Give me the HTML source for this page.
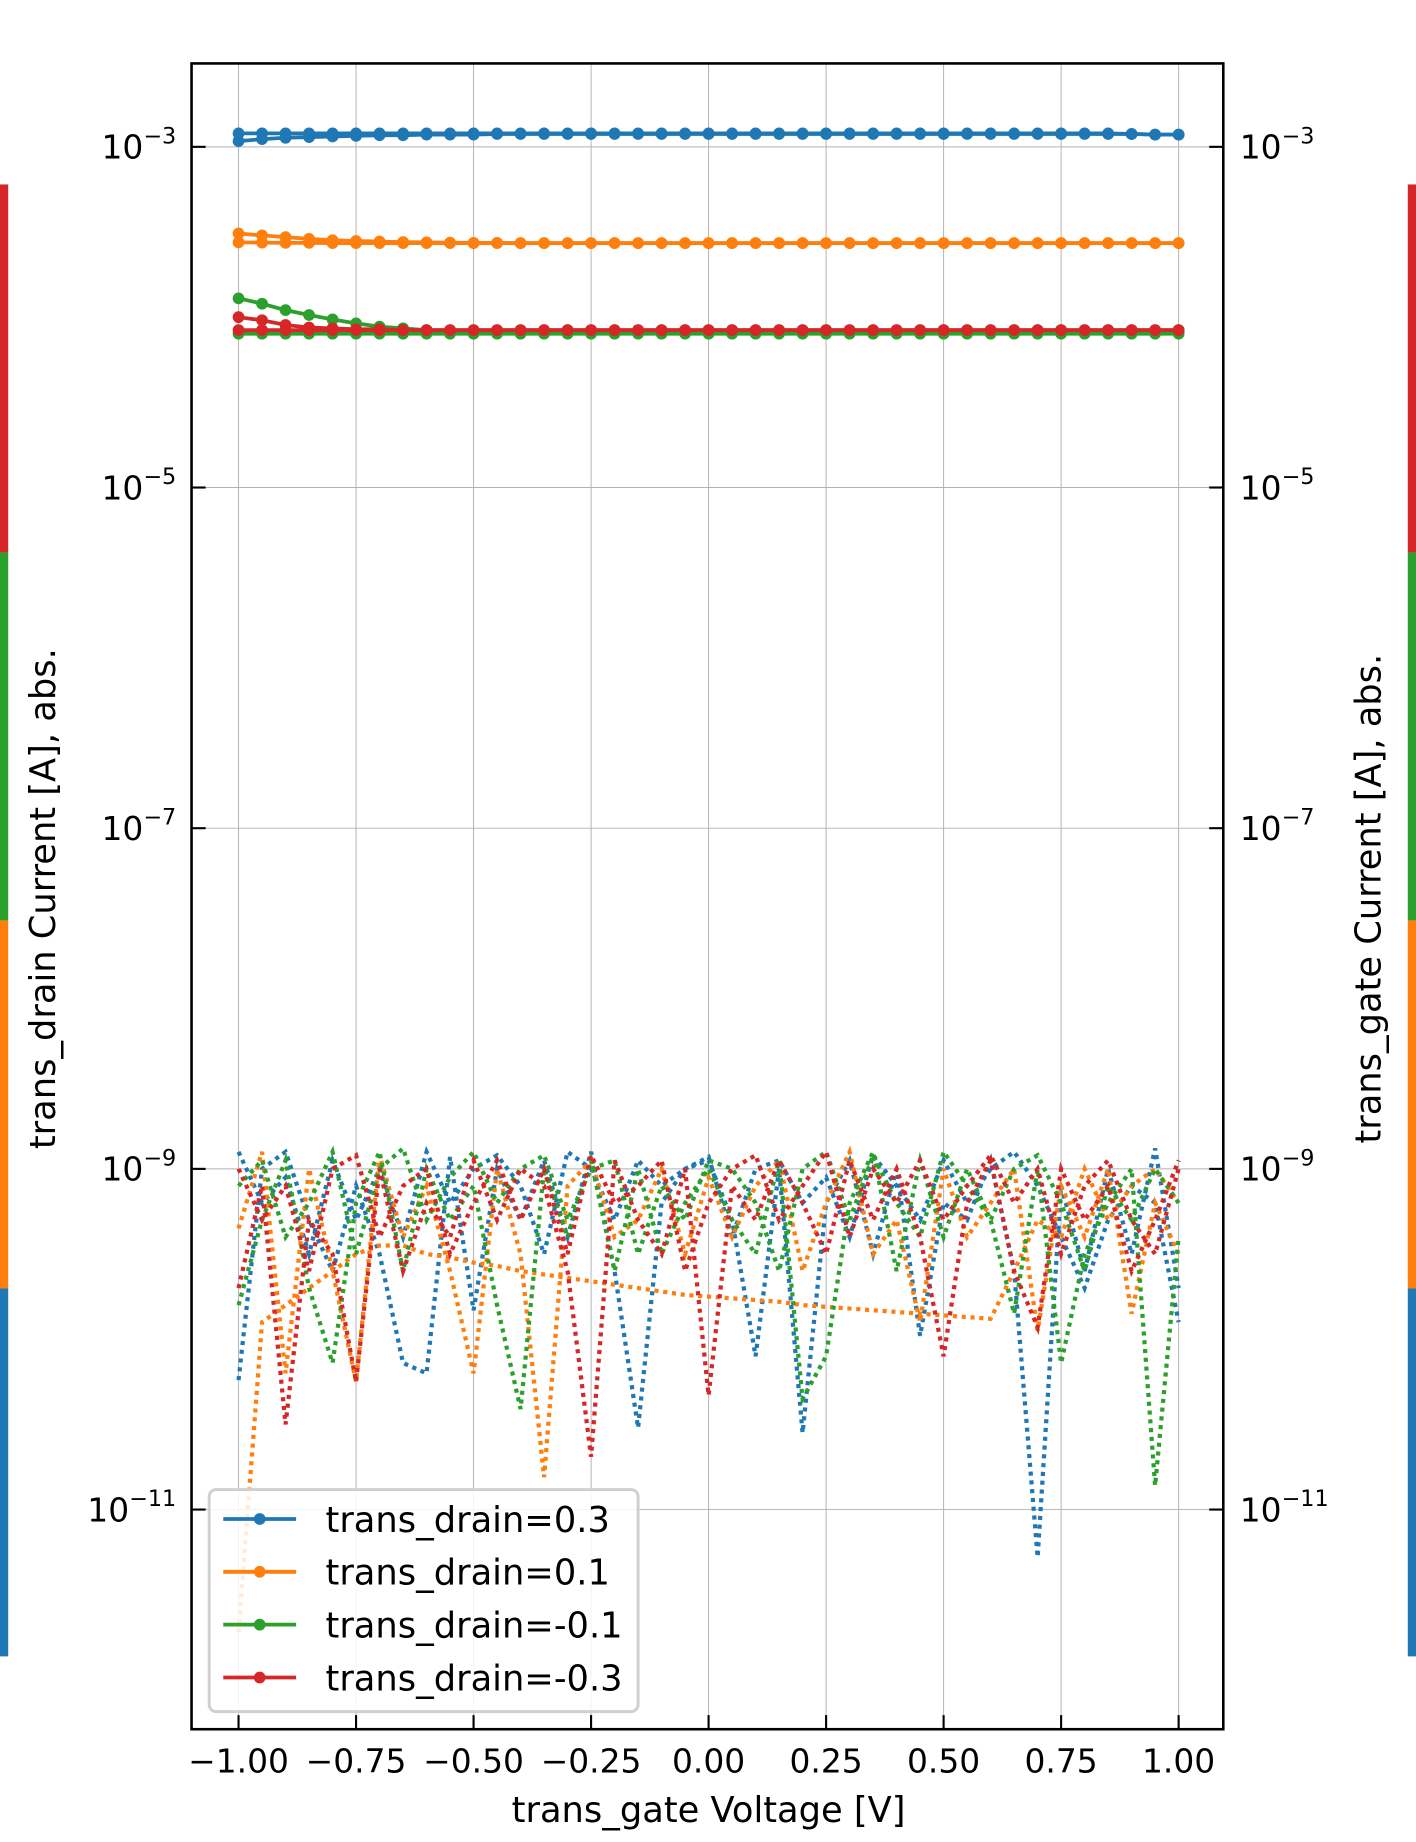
<!DOCTYPE html>
<html><head><meta charset="utf-8"><style>
html,body{margin:0;padding:0;background:#fff;}
svg{display:block;font-family:"DejaVu Sans","Liberation Sans",sans-serif;}
</style></head><body>
<svg id="chart" width="1416" height="1842" viewBox="0 0 1205 1568" preserveAspectRatio="none" xmlns="http://www.w3.org/2000/svg">
<rect x="0" y="0" width="1205" height="1568" fill="#fff"/>
<g id="colorbars"></g>
<g id="grid"></g>
<g id="series"></g>
<g id="axes"></g>
<g id="legend"></g>
</svg>
<script>
const xTicks=[-1.00,-0.75,-0.50,-0.25,0.00,0.25,0.50,0.75,1.00];
const xTickLabels=["\u22121.00","\u22120.75","\u22120.50","\u22120.25","0.00","0.25","0.50","0.75","1.00"];
const yTickExps=[-3,-5,-7,-9,-11];
const seriesNames=["trans_drain=0.3","trans_drain=0.1","trans_drain=-0.1","trans_drain=-0.3"];
const seriesColors=["#1f77b4","#ff7f0e","#2ca02c","#d62728"];
const drainBlueA=[1.08e-3,1.11e-3,1.13e-3,1.14e-3,1.15e-3,1.16e-3,1.17e-3,1.17e-3,1.18e-3,1.18e-3,1.18e-3,1.19e-3,1.19e-3,1.19e-3,1.19e-3,1.19e-3,1.19e-3,1.19e-3,1.19e-3,1.19e-3,1.19e-3,1.19e-3,1.19e-3,1.19e-3,1.19e-3,1.19e-3,1.19e-3,1.19e-3,1.19e-3,1.19e-3,1.19e-3,1.19e-3,1.19e-3,1.19e-3,1.19e-3,1.19e-3,1.19e-3,1.19e-3,1.19e-3,1.18e-3,1.18e-3];
const drainBlueB=[1.20e-3,1.20e-3,1.20e-3,1.20e-3,1.20e-3,1.20e-3,1.20e-3,1.20e-3,1.20e-3,1.20e-3,1.20e-3,1.20e-3,1.20e-3,1.20e-3,1.20e-3,1.20e-3,1.20e-3,1.20e-3,1.20e-3,1.20e-3,1.20e-3,1.20e-3,1.20e-3,1.20e-3,1.20e-3,1.20e-3,1.20e-3,1.20e-3,1.20e-3,1.20e-3,1.20e-3,1.20e-3,1.20e-3,1.20e-3,1.20e-3,1.20e-3,1.20e-3,1.20e-3,1.19e-3,1.18e-3,1.18e-3];
const drainOrangeA=[3.10e-4,3.02e-4,2.95e-4,2.88e-4,2.83e-4,2.80e-4,2.78e-4,2.76e-4,2.75e-4,2.74e-4,2.73e-4,2.73e-4,2.72e-4,2.72e-4,2.72e-4,2.72e-4,2.72e-4,2.72e-4,2.72e-4,2.72e-4,2.72e-4,2.72e-4,2.72e-4,2.72e-4,2.72e-4,2.72e-4,2.72e-4,2.72e-4,2.72e-4,2.72e-4,2.72e-4,2.72e-4,2.72e-4,2.72e-4,2.72e-4,2.72e-4,2.72e-4,2.72e-4,2.72e-4,2.72e-4,2.72e-4];
const drainOrangeB=[2.75e-4,2.74e-4,2.73e-4,2.73e-4,2.72e-4,2.72e-4,2.72e-4,2.72e-4,2.72e-4,2.72e-4,2.72e-4,2.72e-4,2.72e-4,2.72e-4,2.72e-4,2.72e-4,2.72e-4,2.72e-4,2.72e-4,2.72e-4,2.72e-4,2.72e-4,2.72e-4,2.72e-4,2.72e-4,2.72e-4,2.72e-4,2.72e-4,2.72e-4,2.72e-4,2.72e-4,2.72e-4,2.72e-4,2.72e-4,2.72e-4,2.72e-4,2.72e-4,2.72e-4,2.72e-4,2.72e-4,2.72e-4];
const drainGreenA=[1.29e-4,1.20e-4,1.10e-4,1.03e-4,9.7e-5,9.2e-5,8.8e-5,8.6e-5,8.4e-5,8.3e-5,8.2e-5,8.2e-5,8.2e-5,8.2e-5,8.2e-5,8.2e-5,8.2e-5,8.2e-5,8.2e-5,8.2e-5,8.2e-5,8.2e-5,8.2e-5,8.2e-5,8.2e-5,8.2e-5,8.2e-5,8.2e-5,8.2e-5,8.2e-5,8.2e-5,8.2e-5,8.2e-5,8.2e-5,8.2e-5,8.2e-5,8.2e-5,8.2e-5,8.2e-5,8.2e-5,8.2e-5];
const drainGreenB=[8.0e-5,8.0e-5,8.0e-5,8.0e-5,8.0e-5,8.0e-5,8.0e-5,8.0e-5,8.0e-5,8.0e-5,8.0e-5,8.0e-5,8.0e-5,8.0e-5,8.0e-5,8.0e-5,8.0e-5,8.0e-5,8.0e-5,8.0e-5,8.0e-5,8.0e-5,8.0e-5,8.0e-5,8.0e-5,8.0e-5,8.0e-5,8.0e-5,8.0e-5,8.0e-5,8.0e-5,8.0e-5,8.0e-5,8.0e-5,8.0e-5,8.0e-5,8.0e-5,8.0e-5,8.0e-5,8.0e-5,8.0e-5];
const drainRedA=[1.00e-4,9.6e-5,9.0e-5,8.7e-5,8.6e-5,8.5e-5,8.5e-5,8.4e-5,8.4e-5,8.4e-5,8.4e-5,8.4e-5,8.4e-5,8.4e-5,8.4e-5,8.4e-5,8.4e-5,8.4e-5,8.4e-5,8.4e-5,8.4e-5,8.4e-5,8.4e-5,8.4e-5,8.4e-5,8.4e-5,8.4e-5,8.4e-5,8.4e-5,8.4e-5,8.4e-5,8.4e-5,8.4e-5,8.4e-5,8.4e-5,8.4e-5,8.4e-5,8.4e-5,8.4e-5,8.4e-5,8.4e-5];
const drainRedB=[8.4e-5,8.4e-5,8.4e-5,8.4e-5,8.4e-5,8.4e-5,8.4e-5,8.4e-5,8.4e-5,8.4e-5,8.4e-5,8.4e-5,8.4e-5,8.4e-5,8.4e-5,8.4e-5,8.4e-5,8.4e-5,8.4e-5,8.4e-5,8.4e-5,8.4e-5,8.4e-5,8.4e-5,8.4e-5,8.4e-5,8.4e-5,8.4e-5,8.4e-5,8.4e-5,8.4e-5,8.4e-5,8.4e-5,8.4e-5,8.4e-5,8.4e-5,8.4e-5,8.4e-5,8.4e-5,8.4e-5,8.4e-5];
// gate currents, log10(A)
const gateBlue=[-10.24,-9.0,-8.9,-9.3,-9.6,-9.1,-9.5,-10.14,-10.2,-8.93,-9.83,-9.0,-9.3,-8.95,-9.4,-8.9,-9.6,-10.52,-9.2,-9.0,-8.95,-9.3,-10.1,-9.0,-10.55,-9.2,-8.95,-9.5,-9.0,-9.98,-9.2,-9.3,-8.95,-9.6,-11.28,-9.1,-9.6,-9.0,-9.5,-8.88,-9.7];
const gateBlue2=[-8.9,-9.2,-9.05,-9.5,-8.95,-9.3,-9.0,-9.4,-8.9,-9.2,-9.0,-8.92,-9.1,-9.5,-8.9,-9.0,-9.3,-8.95,-9.1,-9.0,-8.93,-9.4,-9.0,-8.95,-9.2,-9.05,-9.4,-8.92,-9.1,-9.3,-8.95,-9.2,-9.0,-8.9,-9.1,-9.4,-9.7,-9.3,-9.1,-9.2,-9.9];
const gateOrange=[-9.35,-8.9,-10.2,-9.0,-9.6,-10.25,-8.92,-9.4,-9.1,-9.6,-10.2,-9.0,-9.5,-10.81,-9.1,-8.95,-9.4,-9.3,-9.0,-9.5,-9.05,-9.4,-9.1,-8.95,-9.6,-9.2,-8.9,-9.5,-9.3,-9.9,-9.0,-9.4,-9.2,-9.0,-9.95,-9.1,-9.4,-9.0,-9.85,-9.2,-9.5];
const gateOrangeB=[-11.72,-9.9,-9.8,-9.7,-9.6,-9.5,-9.45,-9.45,-9.5,-9.52,-9.55,-9.57,-9.6,-9.62,-9.64,-9.66,-9.68,-9.7,-9.72,-9.74,-9.75,-9.76,-9.77,-9.78,-9.8,-9.81,-9.82,-9.83,-9.84,-9.85,-9.86,-9.87,-9.88,-9.6,-9.3,-9.4,-9.0,-9.3,-9.1,-9.0,-9.2];
const gateGreen=[-9.8,-9.3,-8.95,-9.7,-10.14,-9.2,-8.9,-9.6,-9.0,-9.3,-9.1,-9.8,-10.41,-9.0,-9.4,-8.95,-9.6,-9.0,-9.5,-9.2,-9.0,-9.3,-9.5,-8.95,-10.35,-10.1,-9.2,-8.9,-9.6,-8.95,-9.4,-9.0,-9.3,-9.85,-9.0,-10.14,-9.5,-9.2,-9.0,-10.86,-9.4];
const gateGreen2=[-9.1,-8.95,-9.4,-9.2,-8.9,-9.5,-9.0,-8.88,-9.3,-9.05,-8.9,-9.2,-9.0,-8.92,-9.3,-9.0,-8.95,-9.5,-9.1,-9.3,-8.95,-9.0,-9.2,-9.6,-9.0,-8.9,-9.3,-8.92,-9.2,-9.4,-8.9,-9.1,-9.3,-9.0,-8.92,-9.2,-9.6,-9.1,-9.3,-9.0,-9.2];
const gateRed=[-9.7,-9.1,-10.5,-9.3,-9.5,-10.25,-9.0,-9.6,-9.2,-9.4,-8.95,-9.3,-9.0,-9.1,-9.6,-10.69,-8.95,-9.3,-9.5,-9.0,-10.33,-9.1,-9.3,-8.95,-9.2,-9.5,-8.95,-9.3,-9.0,-9.4,-10.1,-9.2,-8.95,-9.6,-9.93,-9.0,-9.3,-9.1,-9.6,-9.3,-8.95];
const gateRed2=[-9.0,-9.3,-9.1,-9.6,-9.0,-8.92,-9.4,-9.1,-9.0,-9.5,-9.2,-8.95,-9.3,-9.0,-9.5,-8.92,-9.2,-9.1,-8.95,-9.6,-9.2,-9.0,-8.92,-9.3,-9.1,-8.9,-9.4,-9.0,-9.2,-8.95,-9.3,-9.1,-8.92,-9.2,-9.0,-9.5,-9.1,-8.95,-9.3,-9.5,-9.0];

const NS="http://www.w3.org/2000/svg";
const L=163,R=1041,T=54,B=1472;
function X(v){return 603+400*v;}
function Ylog(e){return 995-145*(e+9);}
function Y(v){return Ylog(Math.log10(v));}
const xs=[];for(let i=0;i<41;i++)xs.push(-1+0.05*i);
function mk(tag,attrs,parent){const e=document.createElementNS(NS,tag);for(const k in attrs)e.setAttribute(k,attrs[k]);parent.appendChild(e);return e;}

const cb=document.getElementById('colorbars');
const cbColors=["#d62728","#2ca02c","#ff7f0e","#1f77b4"];
cbColors.forEach((c,i)=>{
  const a=mk('rect',{x:0,y:157+313.25*i,width:7,height:313.25,fill:c},cb);
  
  
  const b=mk('rect',{x:1198,y:157+313.25*i,width:7,height:313.25,fill:c},cb);
  
  
});

const g=document.getElementById('grid');
xTicks.forEach(v=>{const l=mk('line',{x1:X(v),x2:X(v),y1:T,y2:B,stroke:'#b0b0b0','stroke-width':0.8},g);
  
  });
yTickExps.forEach(e=>{const l=mk('line',{x1:L,x2:R,y1:Ylog(e),y2:Ylog(e),stroke:'#b0b0b0','stroke-width':0.8},g);
  
  });

const s=document.getElementById('series');
function solid(arr,c,name){
  const pts=arr.map((v,i)=>X(xs[i])+','+Y(v)).join(' ');
  const p=mk('polyline',{points:pts,fill:'none',stroke:c,'stroke-width':3.2},s);
  
  
  arr.forEach((v,i)=>{const m=mk('circle',{cx:X(xs[i]),cy:Y(v),r:5,fill:c},s);
    
    });
}
function dotted(arr,c,name){
  const pts=arr.map((e,i)=>X(xs[i])+','+Ylog(e)).join(' ');
  const p=mk('polyline',{points:pts,fill:'none',stroke:c,'stroke-width':3.6,'stroke-dasharray':'3.5,4'},s);
  
  
}
dotted(gateBlue,seriesColors[0],'gate-current-0.3');
dotted(gateBlue2,seriesColors[0],'gate-current-0.3-sweep2');
dotted(gateOrange,seriesColors[1],'gate-current-0.1');
dotted(gateOrangeB,seriesColors[1],'gate-current-0.1-sweep2');
dotted(gateGreen,seriesColors[2],'gate-current-neg0.1');
dotted(gateGreen2,seriesColors[2],'gate-current-neg0.1-sweep2');
dotted(gateRed,seriesColors[3],'gate-current-neg0.3');
dotted(gateRed2,seriesColors[3],'gate-current-neg0.3-sweep2');
solid(drainBlueA,seriesColors[0],'drain-current-0.3-fwd');
solid(drainBlueB,seriesColors[0],'drain-current-0.3-rev');
solid(drainOrangeA,seriesColors[1],'drain-current-0.1-fwd');
solid(drainOrangeB,seriesColors[1],'drain-current-0.1-rev');
solid(drainGreenA,seriesColors[2],'drain-current-neg0.1-fwd');
solid(drainGreenB,seriesColors[2],'drain-current-neg0.1-rev');
solid(drainRedA,seriesColors[3],'drain-current-neg0.3-fwd');
solid(drainRedB,seriesColors[3],'drain-current-neg0.3-rev');

const ax=document.getElementById('axes');
const fr=mk('rect',{x:L,y:T,width:R-L,height:B-T,fill:'none',stroke:'#000','stroke-width':2.2},ax);


xTicks.forEach((v,i)=>{
  mk('line',{x1:X(v),x2:X(v),y1:B,y2:B-12,stroke:'#000','stroke-width':1.8},ax);
  const t=mk('text',{x:X(v),y:B+37,'text-anchor':'middle','font-size':28,fill:'#000'},ax);
  t.textContent=xTickLabels[i];
  
  
});
yTickExps.forEach(e=>{
  const y=Ylog(e);
  mk('line',{x1:L,x2:L+12,y1:y,y2:y,stroke:'#000','stroke-width':1.8},ax);
  mk('line',{x1:R,x2:R-12,y1:y,y2:y,stroke:'#000','stroke-width':1.8},ax);
  const expStr="\u2212"+Math.abs(e);
  const tl=mk('text',{x:150,y:y+10,'text-anchor':'end','font-size':28,fill:'#000'},ax);
  tl.innerHTML='10<tspan dy="-13" font-size="19">'+expStr+'</tspan>';
  
  
  const tr=mk('text',{x:1055,y:y+10,'text-anchor':'start','font-size':28,fill:'#000'},ax);
  tr.innerHTML='10<tspan dy="-13" font-size="19">'+expStr+'</tspan>';
  
  
});
const xl=mk('text',{x:603,y:1551,'text-anchor':'middle','font-size':30,fill:'#000'},ax);
xl.textContent='trans_gate Voltage [V]';


const yl=mk('text',{x:0,y:0,'text-anchor':'middle','font-size':30,fill:'#000',transform:'translate(47,765) rotate(-90)'},ax);
yl.textContent='trans_drain Current [A], abs.';


const yr=mk('text',{x:0,y:0,'text-anchor':'middle','font-size':30,fill:'#000',transform:'translate(1175,765) rotate(-90)'},ax);
yr.textContent='trans_gate Current [A], abs.';



const lg=document.getElementById('legend');
const box=mk('rect',{x:178,y:1268,width:365,height:189,rx:6,fill:'#fff','fill-opacity':0.85,stroke:'#d0d0d0','stroke-width':2.5},lg);


seriesNames.forEach((n,i)=>{
  const y=1293+45*i;
  const ln=mk('line',{x1:190,x2:252,y1:y,y2:y,stroke:seriesColors[i],'stroke-width':3.2},lg);
  
  
  mk('circle',{cx:221,cy:y,r:5,fill:seriesColors[i]},lg);
  const t=mk('text',{x:277,y:y+11,'font-size':30,fill:'#000'},lg);
  t.textContent=n;
  
  
});
</script>
</body></html>
